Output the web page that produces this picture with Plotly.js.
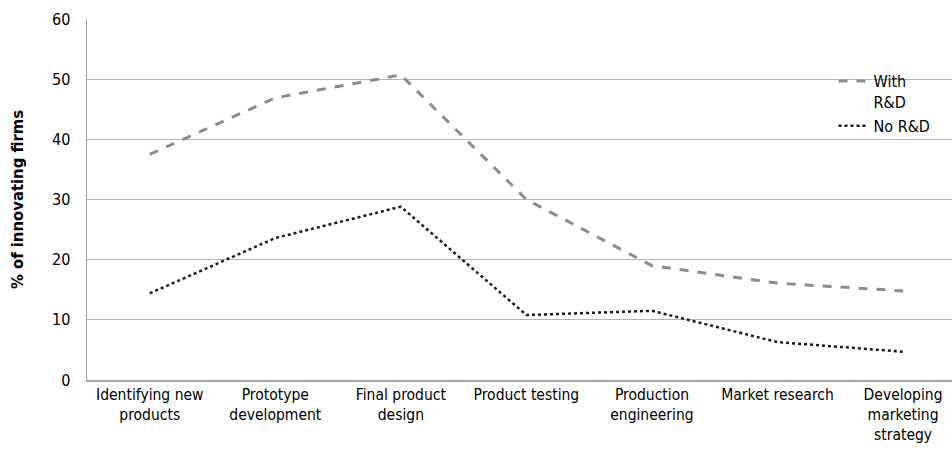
<!DOCTYPE html>
<html><head><meta charset="utf-8">
<script src="https://cdn.plot.ly/plotly-3.0.1.min.js"></script>
<style>html,body{margin:0;padding:0;background:#fff;}</style>
</head><body>
<div id="chart" style="width:952px;height:456px;"></div>
<script>
const categories = ["Identifying new<br>products", "Prototype<br>development", "Final product<br>design", "Product testing", "Production<br>engineering", "Market research", "Developing<br>marketing<br>strategy"];
const withRD = [37.5, 46.9, 50.7, 30.0, 19.0, 16.1, 14.8];
const noRD = [14.4, 23.6, 28.8, 10.8, 11.5, 6.3, 4.7];
const yTicks = [0, 10, 20, 30, 40, 50, 60];

const FONT = "'DejaVu Sans Condensed', 'Liberation Sans Narrow', sans-serif";

const traces = [
  {x: categories, y: withRD, type: "scatter", mode: "lines", name: "With<br>R&D",
   line: {color: "#8c8c8c", width: 3, dash: "dash"}},
  {x: categories, y: noRD, type: "scatter", mode: "lines", name: "No R&D",
   line: {color: "#1a1a1a", width: 2.5, dash: "dot"}}
];

const layout = {
  width: 952, height: 456,
  margin: {l: 87, r: 0, t: 19, b: 76},
  paper_bgcolor: "#fff", plot_bgcolor: "#fff",
  font: {family: FONT, size: 15, color: "#000"},
  showlegend: true,
  legend: {x: 0.863, y: 0.875, xanchor: "left", yanchor: "top", bgcolor: "rgba(0,0,0,0)",
           valign: "top", font: {family: FONT, size: 16, color: "#000"}, tracegroupgap: 0},
  xaxis: {type: "category", range: [-0.5, 6.39], showgrid: false, showline: true,
          linecolor: "#a6a6a6", linewidth: 1.5, ticks: "", tickfont: {family: FONT, size: 15.5},
          tickangle: 0, automargin: false},
  yaxis: {range: [0, 60], tickvals: yTicks, ticktext: yTicks.map(String), showgrid: true,
          gridcolor: "#b3b3b3", gridwidth: 1.3, showline: true, linecolor: "#a6a6a6", linewidth: 1.5,
          zeroline: false, ticks: "", ticklabelstandoff: 12, tickfont: {family: FONT, size: 16},
          title: {text: "<b>% of innovating firms</b>", font: {family: FONT, size: 16.5}, standoff: 24},
          automargin: false}
};

Plotly.newPlot("chart", traces, layout, {displayModeBar: false, staticPlot: true});
</script>
</body></html>
